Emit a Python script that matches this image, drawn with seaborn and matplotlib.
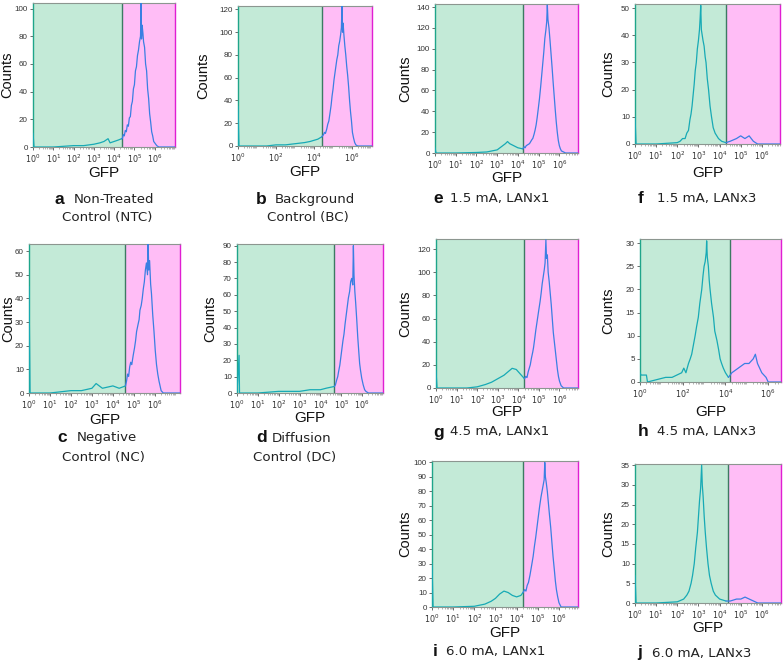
import numpy as np
import pandas as pd
import seaborn as sns
import matplotlib.pyplot as plt
from matplotlib.ticker import FixedLocator, LogLocator, NullFormatter

sns.set_theme(style="ticks")
plt.rcParams["font.family"] = ["Liberation Sans", "DejaVu Sans"]

# GFP histograms: x = log10(GFP), y = counts
a_log = [0.0, 0.05, 1.0, 2.0, 2.5, 3.0, 3.3, 3.5, 3.7, 3.8, 4.0, 4.2, 4.37,
         4.4, 4.45, 4.5, 4.55, 4.6, 4.65, 4.7, 4.75, 4.8, 4.85, 4.9, 4.95, 5.0, 5.05, 5.1, 5.15, 5.2, 5.25,
         5.3, 5.33, 5.35, 5.38, 5.42, 5.45, 5.5, 5.55, 5.6, 5.65, 5.7, 5.75, 5.8, 5.85, 5.9, 5.95, 6.0,
         6.1, 6.2, 7.0]
a_cnt = [10, 0, 0, 1, 1, 2, 3, 4, 6, 3, 4, 5, 6,
         6, 9, 8, 12, 11, 16, 15, 21, 22, 30, 33, 42, 45, 55, 58, 66, 70, 76,
         80, 104, 78, 88, 82, 76, 72, 60, 55, 42, 35, 24, 18, 11, 8, 4, 3,
         1, 0, 0]

b_log = [0.0, 0.05, 1.5, 2.0, 2.5, 3.0, 3.5, 3.8, 4.0, 4.2,
         4.4, 4.5, 4.55, 4.6, 4.67, 4.72, 4.78, 4.85, 4.9, 4.95, 5.0, 5.05, 5.1, 5.15, 5.2, 5.25, 5.3,
         5.35, 5.4, 5.44, 5.47, 5.5, 5.53, 5.57, 5.62, 5.67, 5.72, 5.77, 5.82, 5.87, 5.92, 5.97, 6.02,
         6.08, 6.14, 6.2, 6.3, 7.05]
b_cnt = [35, 0, 0, 1, 1, 2, 3, 4, 5, 6,
         8, 10, 12, 11, 15, 19, 22, 30, 36, 44, 50, 58, 64, 70, 76, 80, 88,
         92, 98, 104, 123, 100, 108, 98, 88, 80, 70, 62, 52, 40, 30, 22, 12,
         7, 3, 1, 0, 0]

c_log = [0.0, 0.05, 1.0, 2.0, 2.5, 3.0, 3.2, 3.5, 4.0, 4.3,
         4.6, 4.65, 4.7, 4.75, 4.8, 4.85, 4.9, 4.97, 5.03, 5.08, 5.13, 5.2, 5.25, 5.29, 5.35, 5.4, 5.45,
         5.5, 5.55, 5.6, 5.65, 5.68, 5.71, 5.75, 5.8, 5.84, 5.9, 5.96, 6.02, 6.08, 6.14, 6.2, 6.3,
         6.4, 7.2]
c_cnt = [45, 0, 0, 1, 1, 2, 4, 2, 3, 2,
         3, 5, 8, 7, 11, 13, 12, 16, 19, 22, 26, 29, 31, 35, 37, 40, 44,
         47, 52, 55, 50, 63, 52, 56, 46, 42, 33, 26, 18, 12, 8, 5, 1,
         0, 0]

d_log = [0.0, 0.1, 0.12, 1.0, 2.0, 3.0, 3.5, 4.0, 4.3,
         4.67, 4.72, 4.78, 4.83, 4.87, 4.93, 4.98, 5.02, 5.08, 5.13, 5.18, 5.23, 5.28, 5.34, 5.4, 5.45,
         5.5, 5.55, 5.58, 5.61, 5.65, 5.69, 5.74, 5.79, 5.84, 5.88, 5.92, 5.98, 6.05, 6.12, 6.18, 6.3,
         7.0]
d_cnt = [0, 23, 0, 0, 1, 1, 2, 2, 3,
         4, 5, 8, 10, 13, 17, 22, 26, 32, 36, 42, 47, 52, 58, 62, 68,
         70, 66, 90, 72, 62, 55, 45, 34, 25, 18, 14, 9, 5, 2, 1, 0,
         0]

e_log = [0.0, 0.05, 1.0, 2.0, 2.5, 3.0, 3.2, 3.4, 3.5, 3.6, 3.8, 4.0,
         4.23, 4.3, 4.35, 4.4, 4.48, 4.56, 4.62, 4.68, 4.72, 4.78, 4.83, 4.88, 4.93, 4.98, 5.04, 5.1,
         5.15, 5.2, 5.25, 5.3, 5.35, 5.39, 5.42, 5.45, 5.5, 5.55, 5.6, 5.65, 5.7, 5.75, 5.8, 5.85,
         5.9, 5.95, 6.0, 6.05, 6.1, 6.2, 6.3, 6.9]
e_cnt = [5, 0, 0, 0.5, 1, 3, 6, 9, 11, 9, 7, 5,
         4, 6, 5, 7, 8, 9, 11, 13, 14, 18, 22, 27, 34, 42, 52, 64,
         75, 86, 97, 110, 118, 126, 142, 128, 120, 108, 95, 82, 68, 55, 42, 30,
         20, 12, 7, 4, 2, 1, 0, 0]

f_log = [0.0, 0.05, 1.0, 2.0,
         2.13, 2.25, 2.37, 2.45, 2.53, 2.6, 2.65, 2.7, 2.75, 2.8, 2.85, 2.9, 2.95, 3.0, 3.05, 3.08,
         3.11, 3.14, 3.18, 3.22, 3.27, 3.32, 3.36, 3.42, 3.48, 3.55, 3.62, 3.7, 3.79, 3.87, 3.95, 4.1,
         4.3, 4.5, 4.8, 5.0, 5.2, 5.4, 5.6, 5.8, 6.86]
f_cnt = [10, 0, 0, 0.5,
         1, 2, 2, 4, 5, 9, 11, 14, 18, 22, 27, 30, 35, 38, 42, 46,
         51, 42, 40, 38, 36, 32, 30, 24, 20, 14, 10, 6, 4, 3, 2, 1,
         0.5, 1, 2, 3, 2, 3, 1, 0, 0]

g_log = [0.0, 0.05, 1.0, 1.5, 2.0, 2.4, 2.7, 3.0, 3.3, 3.5, 3.7, 3.9, 4.1,
         4.3, 4.36, 4.42, 4.48, 4.53, 4.58, 4.64, 4.7, 4.74, 4.8, 4.85, 4.9, 4.95, 5.0, 5.06, 5.11,
         5.16, 5.21, 5.26, 5.3, 5.34, 5.37, 5.41, 5.45, 5.5, 5.55, 5.6, 5.65, 5.7, 5.75, 5.8, 5.85,
         5.9, 5.95, 6.0, 6.08, 6.2, 6.9]
g_cnt = [15, 0, 0, 0, 1, 3, 5, 8, 11, 14, 17, 16, 12,
         8, 10, 9, 14, 17, 20, 26, 31, 35, 43, 50, 56, 62, 68, 75, 82,
         90, 96, 102, 108, 128, 112, 115, 100, 92, 82, 72, 60, 48, 40, 32, 24,
         16, 10, 6, 2, 0, 0]

h_log = [0.0, 0.05, 0.3, 0.35, 1.2, 1.5,
         1.95, 2.05, 2.15, 2.27, 2.35, 2.42, 2.5, 2.58, 2.65, 2.73, 2.8, 2.89, 2.95, 3.0, 3.05, 3.1,
         3.12, 3.15, 3.2, 3.24, 3.28, 3.35, 3.44, 3.5, 3.6, 3.68, 3.75, 3.82, 3.9, 4.0, 4.14,
         4.3, 4.6, 4.9, 5.1, 5.3, 5.4, 5.5, 5.7, 5.9, 6.0, 6.6]
h_cnt = [2, 1.5, 1.5, 0, 1, 1,
         2, 3, 2, 4, 5, 6, 8, 10, 12, 14, 17, 20, 23, 25, 26, 28,
         30.5, 27, 25, 22, 20, 17, 14, 11, 9, 7, 5, 4, 3, 2, 1,
         2, 3, 4, 4, 5, 6, 4, 2, 1, 0, 0]

i_log = [0.0, 0.05, 1.0, 2.0, 2.5, 2.8, 3.0, 3.2, 3.4, 3.6, 3.8, 4.0, 4.2,
         4.3, 4.38, 4.44, 4.5, 4.56, 4.63, 4.7, 4.78, 4.84, 4.9, 4.96, 5.02, 5.09, 5.15, 5.2, 5.25,
         5.3, 5.33, 5.36, 5.4, 5.45, 5.5, 5.55, 5.61, 5.67, 5.72, 5.78, 5.83, 5.88, 5.94, 6.0, 6.1,
         6.9]
i_cnt = [30, 0, 0, 0.5, 2, 4, 6, 9, 11, 10, 8, 7, 8,
         10, 12, 11, 15, 17, 22, 28, 35, 42, 48, 55, 62, 70, 76, 80, 84,
         88, 100, 90, 86, 80, 72, 64, 55, 44, 35, 26, 18, 12, 7, 3, 0,
         0]

j_log = [0.0, 0.05, 1.0, 2.0,
         2.3, 2.45, 2.55, 2.65, 2.72, 2.8, 2.87, 2.95, 3.0, 3.05, 3.1, 3.15, 3.18, 3.22, 3.27, 3.32,
         3.38, 3.45, 3.52, 3.6, 3.7, 3.8, 4.0,
         4.3, 4.5, 4.8, 5.0, 5.2, 5.4, 5.6, 5.8, 6.9]
j_cnt = [7, 0, 0, 0.3,
         1, 2, 3, 5, 7, 10, 14, 18, 22, 26, 29, 35, 30, 27, 22, 18,
         14, 10, 7, 5, 3, 2, 1,
         0.5, 0.5, 1, 1, 1.5, 1, 0.5, 0, 0]

# gate position (log10), y max, x max (log10), y step, x label step
gates = dict(a=4.37, b=4.4, c=4.6, d=4.67, e=4.23, f=4.3, g=4.3, h=4.2, i=4.3, j=4.4)
ymaxs = dict(a=104, b=123, c=63, d=91, e=143, f=51.5, g=128.7, h=30.9, i=101, j=35.3)
xmaxs = dict(a=7.0, b=7.05, c=7.2, d=7.0, e=6.9, f=6.86, g=6.9, h=6.6, i=6.9, j=6.9)
ysteps = dict(a=20, b=20, c=10, d=10, e=20, f=10, g=20, h=5, i=10, j=5)
xsteps = dict(a=1, b=2, c=1, d=1, e=1, f=1, g=1, h=2, i=1, j=1)

captions = {
    "a": ("Non-Treated", "Control (NTC)"), "b": ("Background", "Control (BC)"),
    "c": ("Negative", "Control (NC)"), "d": ("Diffusion", "Control (DC)"),
    "e": ("1.5 mA, LANx1", None), "f": ("1.5 mA, LANx3", None),
    "g": ("4.5 mA, LANx1", None), "h": ("4.5 mA, LANx3", None),
    "i": ("6.0 mA, LANx1", None), "j": ("6.0 mA, LANx3", None),
}

data = dict(a=(a_log, a_cnt), b=(b_log, b_cnt), c=(c_log, c_cnt), d=(d_log, d_cnt),
            e=(e_log, e_cnt), f=(f_log, f_cnt), g=(g_log, g_cnt), h=(h_log, h_cnt),
            i=(i_log, i_cnt), j=(j_log, j_cnt))

# layout in pixels: axes box (l, t, r, b), Counts x, GFP y
W, H = 784, 663
boxes = dict(a=(33, 3, 175, 147), b=(238, 6, 372, 146), e=(435, 4, 578, 153), f=(635, 4, 780, 144),
             c=(29, 244, 180, 393), d=(237, 244, 383, 393), g=(436, 239, 578, 388), h=(640, 239, 781, 382),
             i=(432, 461, 578, 607), j=(635, 464, 781, 603))
ylab_x = dict(a=7, b=203, e=405, f=608, c=8, d=210, g=405, h=608, i=405, j=608)
xlab_y = dict(a=173, b=172, e=178, f=173, c=420, d=418, g=412, h=412, i=633, j=628)
# caption: letter x, text x, line y, second line center x
cap_pos = dict(a=(55, 74, 199, 107), b=(256, 275, 199, 308), c=(57, 77, 438, 103), d=(256, 272, 438, 295),
               e=(433, 450, 198, None), f=(638, 657, 198, None), g=(433, 450, 432, None),
               h=(638, 657, 432, None), i=(433, 446, 652, None), j=(637, 652, 653, None))

GREEN = "#c3ead7"
PINK = "#ffbdf6"
GATE = "#3d7a62"
TEAL = "#17aab5"
BLUE = "#3a7fe2"

fig = plt.figure(figsize=(W / 100, H / 100), dpi=100)

for k in "abcdefghij":
    l, t, r, b = boxes[k]
    ax = fig.add_axes([l / W, 1 - b / H, (r - l) / W, (b - t) / H])
    ax.set_xscale("log")
    xmax = 10 ** xmaxs[k]
    gate = 10 ** gates[k]
    ax.set_xlim(1, xmax)
    ax.set_ylim(0, ymaxs[k])
    ax.axvspan(1, gate, color=GREEN, lw=0, zorder=0)
    ax.axvspan(gate, xmax, color=PINK, lw=0, zorder=0)
    ax.axvline(gate, color=GATE, lw=1.0, zorder=1)

    logs, cnts = data[k]
    df = pd.DataFrame({"gfp": 10 ** np.array(logs), "count": cnts})
    left = df[df["gfp"] <= gate]
    right = df[df["gfp"] >= left["gfp"].iloc[-1]]
    sns.lineplot(data=left, x="gfp", y="count", ax=ax, color=TEAL, lw=0.9,
                 estimator=None, sort=False, zorder=3)
    sns.lineplot(data=right, x="gfp", y="count", ax=ax, color=BLUE, lw=0.9,
                 estimator=None, sort=False, zorder=3)

    exps = np.arange(0, 7, xsteps[k])
    ax.xaxis.set_major_locator(FixedLocator(10.0 ** exps))
    ax.set_xticklabels([f"$10^{{{n}}}$" for n in exps])
    ax.xaxis.set_minor_locator(LogLocator(base=10, subs=np.arange(2, 10) * 1.0, numticks=20))
    ax.xaxis.set_minor_formatter(NullFormatter())
    yt = np.arange(0, ymaxs[k] + 0.01, ysteps[k])
    ax.set_yticks(yt)
    ax.set_yticklabels([f"{v:g}" for v in yt])
    ax.tick_params(axis="both", which="major", direction="out", length=2.2, width=0.6,
                   pad=1.5, labelsize=5.8, colors="#555555", labelcolor="#333333")
    ax.tick_params(axis="x", which="minor", direction="out", length=1.2, width=0.4, colors="#777777")

    ax.spines["top"].set_color("#8c9690")
    ax.spines["top"].set_linewidth(0.8)
    ax.spines["bottom"].set_color("#8c9690")
    ax.spines["bottom"].set_linewidth(0.8)
    ax.spines["left"].set_color("#1fa58a")
    ax.spines["left"].set_linewidth(1.0)
    ax.spines["right"].set_color("#e01ed2")
    ax.spines["right"].set_linewidth(1.0)

    ax.set_xlabel("GFP", fontsize=11, color="#111111")
    ax.set_ylabel("Counts", fontsize=10.5, color="#111111")
    ax.xaxis.label.set_va("center")
    ax.yaxis.label.set_va("center")
    ax.yaxis.set_label_coords((ylab_x[k] - l) / (r - l), 0.5)
    ax.xaxis.set_label_coords(0.5, (b - xlab_y[k]) / (b - t))

    # panel caption
    lx, tx, ty, cx = cap_pos[k]
    line1, line2 = captions[k]
    fig.text(lx / W, 1 - ty / H, k, fontsize=12.5, fontweight="bold", ha="left", va="center",
             color="#111111", family="Liberation Sans")
    fig.text(tx / W, 1 - ty / H, line1, fontsize=9.6, ha="left", va="center",
             color="#222222", family="DejaVu Sans")
    if line2:
        fig.text(cx / W, 1 - (ty + 19) / H, line2, fontsize=9.6, ha="center", va="center",
                 color="#222222", family="DejaVu Sans")

fig.savefig("out.png", dpi=100, facecolor="white")
